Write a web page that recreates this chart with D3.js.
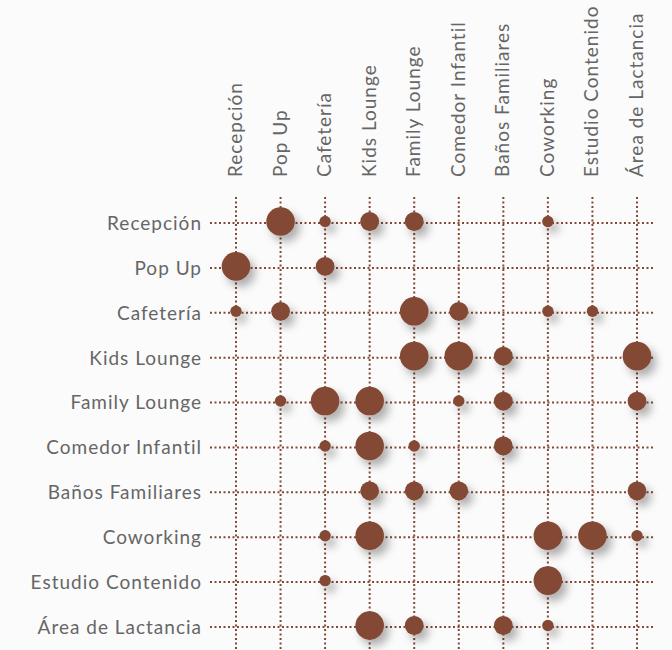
<!DOCTYPE html>
<html>
<head>
<meta charset="utf-8">
<script src="https://cdn.jsdelivr.net/npm/d3@7"></script>
<style>
  body { margin: 0; background: #fbfbfb; }
  svg { display: block; }
  text { font-family: "Lato", "Open Sans", sans-serif; font-weight: 400; fill: #666; letter-spacing: 1px; }
</style>
</head>
<body>
<svg id="chart"></svg>
<script>
var areas = ["Recepción", "Pop Up", "Cafetería", "Kids Lounge", "Family Lounge",
             "Comedor Infantil", "Baños Familiares", "Coworking", "Estudio Contenido", "Área de Lactancia"];

// row, column, level (1 small, 2 medium, 3 large)
var rowNames = ["Recepción","Recepción","Recepción","Recepción","Recepción",
                "Pop Up","Pop Up",
                "Cafetería","Cafetería","Cafetería","Cafetería","Cafetería","Cafetería",
                "Kids Lounge","Kids Lounge","Kids Lounge","Kids Lounge",
                "Family Lounge","Family Lounge","Family Lounge","Family Lounge","Family Lounge","Family Lounge",
                "Comedor Infantil","Comedor Infantil","Comedor Infantil","Comedor Infantil",
                "Baños Familiares","Baños Familiares","Baños Familiares","Baños Familiares",
                "Coworking","Coworking","Coworking","Coworking","Coworking",
                "Estudio Contenido","Estudio Contenido",
                "Área de Lactancia","Área de Lactancia","Área de Lactancia","Área de Lactancia"];
var colNames = ["Pop Up","Cafetería","Kids Lounge","Family Lounge","Coworking",
                "Recepción","Cafetería",
                "Recepción","Pop Up","Family Lounge","Comedor Infantil","Coworking","Estudio Contenido",
                "Family Lounge","Comedor Infantil","Baños Familiares","Área de Lactancia",
                "Pop Up","Cafetería","Kids Lounge","Comedor Infantil","Baños Familiares","Área de Lactancia",
                "Cafetería","Kids Lounge","Family Lounge","Baños Familiares",
                "Kids Lounge","Family Lounge","Comedor Infantil","Área de Lactancia",
                "Cafetería","Kids Lounge","Coworking","Estudio Contenido","Área de Lactancia",
                "Cafetería","Coworking",
                "Kids Lounge","Family Lounge","Baños Familiares","Coworking"];
var levels = [3,1,2,2,1,
              3,2,
              1,2,3,2,1,1,
              3,3,2,3,
              1,3,3,1,2,2,
              1,3,1,2,
              2,2,2,2,
              1,3,3,3,1,
              1,3,
              3,2,2,1];

var width = 672, height = 650;
var color = "#844835";

var svg = d3.select("#chart").attr("width", width).attr("height", height);

var defs = svg.append("defs");
var f = defs.append("filter").attr("id", "shadow")
    .attr("x", "-80%").attr("y", "-80%").attr("width", "300%").attr("height", "300%");
f.append("feDropShadow").attr("dx", 5).attr("dy", 6).attr("stdDeviation", 4.5)
    .attr("flood-color", "#000").attr("flood-opacity", 0.3);

var x = d3.scalePoint().domain(areas).range([236, 637]);
var y = d3.scalePoint().domain(areas).range([223, 627]);
var r = d3.scaleLinear().domain([1, 2, 3]).range([5.7, 9.4, 14.3]);

var cells = levels.map(function(v, i){
  return { row: rowNames[i], col: colNames[i], level: v };
});

// grid
svg.append("g").selectAll("line.h")
  .data(areas).enter().append("line")
    .attr("x1", 210).attr("x2", 654)
    .attr("y1", d => y(d)).attr("y2", d => y(d))
    .attr("stroke", color).attr("stroke-width", 2)
    .attr("stroke-dasharray", "2 2.5");

svg.append("g").selectAll("line.v")
  .data(areas).enter().append("line")
    .attr("y1", 197).attr("y2", height)
    .attr("x1", d => x(d)).attr("x2", d => x(d))
    .attr("stroke", color).attr("stroke-width", 2)
    .attr("stroke-dasharray", "2 2.5");

// row labels
svg.append("g").selectAll("text")
  .data(areas).enter().append("text")
    .attr("x", 202).attr("y", d => y(d))
    .attr("dy", "0.36em")
    .attr("text-anchor", "end")
    .style("font-size", "19px")
    .text(d => d);

// column labels
svg.append("g").selectAll("text")
  .data(areas).enter().append("text")
    .attr("transform", d => "translate(" + (x(d) + 6) + ",177) rotate(-90)")
    .attr("text-anchor", "start")
    .style("font-size", "19px")
    .text(d => d);

// bubbles
svg.append("g").selectAll("circle")
  .data(cells).enter().append("circle")
    .attr("cx", d => x(d.col))
    .attr("cy", d => y(d.row) - 1.5)
    .attr("r", d => r(d.level))
    .attr("fill", color)
    .attr("filter", "url(#shadow)");
</script>
</body>
</html>
